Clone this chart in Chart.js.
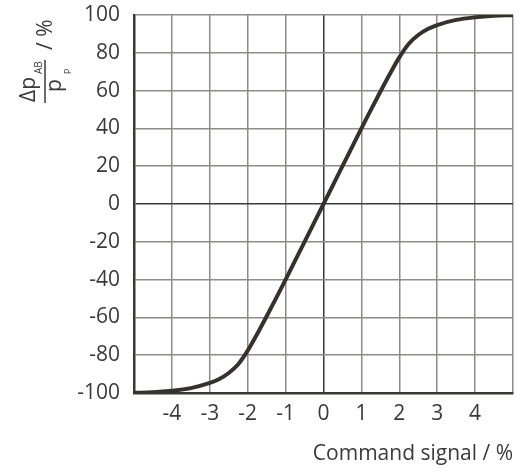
<!DOCTYPE html>
<html>
<head>
<meta charset="utf-8">
<script src="https://cdn.jsdelivr.net/npm/chart.js@4"></script>
<style>
  html, body { margin: 0; padding: 0; background: #fff; }
  #wrap { width: 519px; height: 471px; position: relative; }
</style>
</head>
<body>
<div id="wrap"><canvas id="chart"></canvas></div>
<script>
// command signal in %
const signal = [-5, -4.5, -4, -3.5, -3, -2.75, -2.5, -2.25, -2, -1.75, -1.5, -1.25, -1, -0.5, 0,
    0.5, 1, 1.25, 1.5, 1.75, 2, 2.25, 2.5, 2.75, 3, 3.5, 4, 4.5, 5];
// pressure difference dpAB/pP in %
const pressure = [-99.9, -99.6, -98.8, -97.4, -94.7, -92.6, -89.4, -84.8, -77.6, -68.8, -59.4, -49.8, -40, -20, 0,
    20, 40, 49.8, 59.4, 68.8, 77.6, 84.8, 89.4, 92.6, 94.7, 97.4, 98.8, 99.6, 99.9];
const xTickLabels = [-4, -3, -2, -1, 0, 1, 2, 3, 4];
const yTicks = [-100, -80, -60, -40, -20, 0, 20, 40, 60, 80, 100];

const textColor = '#3a3a3a';
const font = "'Open Sans', 'DejaVu Sans', sans-serif";

// y axis title drawn as a fraction, turned 90 degrees
const yTitle = {
    id: 'yTitle',
    afterDraw(chart) {
        const ctx = chart.ctx;
        ctx.save();
        ctx.rotate(-Math.PI / 2);
        ctx.fillStyle = textColor;
        ctx.textBaseline = 'alphabetic';
        ctx.textAlign = 'left';
        // numerator
        ctx.font = '21px ' + font;
        ctx.fillText('\u0394p', -102, 35);
        ctx.font = '10px ' + font;
        ctx.fillText('AB', -74, 42);
        // bar
        ctx.strokeStyle = textColor;
        ctx.lineWidth = 1.5;
        ctx.beginPath();
        ctx.moveTo(-103, 45);
        ctx.lineTo(-60, 45);
        ctx.stroke();
        // denominator
        ctx.font = '21px ' + font;
        ctx.fillText('p', -92, 61);
        ctx.font = '9px ' + font;
        ctx.fillText('P', -74, 71);
        // unit
        ctx.font = '21px ' + font;
        ctx.fillText('/ %', -50, 52);
        ctx.restore();
    }
};

new Chart(document.getElementById('chart'), {
    type: 'line',
    data: {
        datasets: [{
            data: signal.map((s, i) => ({ x: s, y: pressure[i] })),
            borderColor: '#35322e',
            borderWidth: 4,
            pointRadius: 0,
            cubicInterpolationMode: 'monotone',
            fill: false
        }]
    },
    options: {
        responsive: true,
        maintainAspectRatio: false,
        animation: false,
        layout: { padding: { top: 15, right: 6, left: 0, bottom: 0 } },
        plugins: { legend: { display: false }, tooltip: { enabled: false } },
        scales: {
            x: {
                type: 'linear',
                min: -5,
                max: 5,
                afterBuildTicks(scale) {
                    scale.ticks = [-5].concat(xTickLabels, [5]).map(v => ({ value: v }));
                },
                afterFit(scale) {
                    scale.height = 78;
                    scale.paddingLeft = 0;
                    scale.paddingRight = 0;
                },
                ticks: {
                    color: textColor,
                    font: { family: font, size: 21 },
                    padding: 8,
                    maxRotation: 0,
                    autoSkip: false,
                    callback: v => xTickLabels.includes(v) ? String(v) : ''
                },
                grid: {
                    drawTicks: false,
                    lineWidth: 1.5,
                    color: ctx => ctx.tick && ctx.tick.value === 0 ? '#3a3a3a' : '#8c8c88'
                },
                border: { color: '#3a3833', width: 2.5 },
                title: {
                    display: true,
                    text: 'Command signal / %',
                    align: 'end',
                    color: textColor,
                    font: { family: font, size: 21 },
                    padding: { top: 0, bottom: 4 }
                }
            },
            y: {
                min: -100,
                max: 100,
                afterBuildTicks(scale) {
                    scale.ticks = yTicks.map(v => ({ value: v }));
                },
                afterFit(scale) {
                    scale.width = 134;
                    scale.paddingTop = 0;
                    scale.paddingBottom = 0;
                },
                ticks: {
                    color: textColor,
                    font: { family: font, size: 21 },
                    padding: 14
                },
                grid: {
                    drawTicks: false,
                    lineWidth: 1.5,
                    color: ctx => ctx.tick && ctx.tick.value === 0 ? '#3a3a3a' : '#8c8c88'
                },
                border: { color: '#3a3833', width: 2.5 }
            }
        }
    },
    plugins: [yTitle]
});
</script>
</body>
</html>
